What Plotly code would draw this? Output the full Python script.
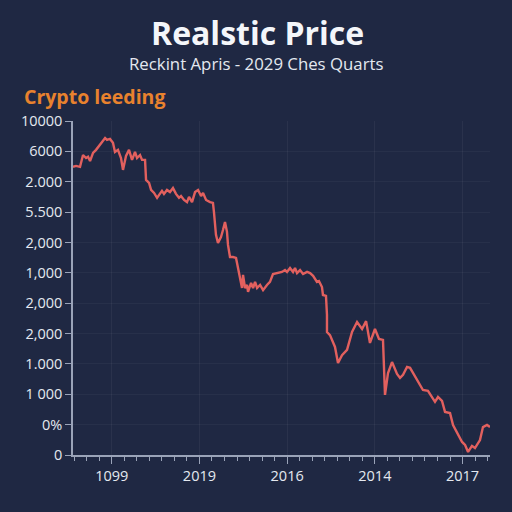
import plotly.graph_objects as go

# period index (minor-tick units) and price level (in tick-slot units)
period = [-3.09,-2.85,-2.53,-2.29,-2.05,-1.89,-1.73,-1.49,-1.25,-1.01,-0.77,-0.53,-0.38,-0.14,0.10,0.26,0.50,0.74,0.90,1.14,1.38,1.62,1.86,2.02,2.26,2.42,2.66,2.74,2.98,3.14,3.38,3.62,3.77,4.01,4.17,4.41,4.65,4.89,5.13,5.37,5.53,5.77,6.01,6.17,6.41,6.65,6.89,7.13,7.29,7.53,7.85,8.08,8.16,8.32,8.48,8.72,8.88,9.04,9.20,9.28,9.44,9.68,9.92,10.08,10.40,10.48,10.64,10.80,10.88,11.12,11.28,11.44,11.60,11.84,12.08,12.39,12.63,12.87,13.19,13.59,13.83,13.99,14.23,14.47,14.63,14.79,15.03,15.27,15.59,15.83,16.07,16.38,16.54,16.78,16.86,17.10,17.18,17.18,17.42,17.82,18.06,18.38,18.78,19.18,19.58,19.98,20.30,20.61,21.01,21.33,21.65,21.81,22.05,22.37,22.77,23.01,23.25,23.57,23.81,24.21,24.61,24.84,25.24,25.56,25.80,26.04,26.36,26.60,27.00,27.24,27.56,27.96,28.20,28.44,28.75,28.99,29.39,29.63,29.95,30.19]
price = [9.49,9.52,9.49,9.88,9.78,9.82,9.68,9.95,10.05,10.18,10.28,10.44,10.38,10.41,10.28,9.98,10.05,9.78,9.39,9.85,10.05,9.72,9.98,9.78,9.88,9.72,9.72,9.06,8.96,8.73,8.63,8.47,8.56,8.70,8.60,8.73,8.66,8.79,8.60,8.47,8.53,8.40,8.33,8.50,8.33,8.66,8.73,8.53,8.63,8.40,8.33,8.30,8.00,7.25,6.98,7.18,7.41,7.67,7.35,6.92,6.52,6.52,6.49,6.16,5.50,5.93,5.50,5.60,5.37,5.67,5.50,5.70,5.50,5.60,5.43,5.60,5.70,5.96,5.99,6.03,6.09,6.03,6.16,6.03,6.16,5.99,6.09,5.96,6.03,5.99,5.90,5.70,5.73,5.53,5.27,5.24,4.61,4.05,3.95,3.56,3.03,3.29,3.46,4.05,4.38,4.15,4.41,3.69,4.15,3.82,3.79,1.98,2.70,3.06,2.67,2.54,2.64,2.90,2.87,2.57,2.31,2.14,2.11,1.88,1.75,1.91,1.78,1.42,1.38,0.99,0.72,0.43,0.33,0.10,0.30,0.23,0.49,0.92,0.99,0.92]

y_tick_vals = [0,1,2,3,4,5,6,7,8,9,10,11]
y_tick_text = ["0","0%","1 000","1.000","2,000","2,000","1,000","2,000","5.500","2.000","6000","10000"]
x_tick_vals = [0,7,14,21,28]
x_tick_text = ["1099","2019","2016","2014","2017"]

BG = "#1f2843"
AX = "#9aa3b8"
TXT = "#e4e8f0"

fig = go.Figure()
fig.add_trace(go.Scatter(x=period, y=price, mode="lines",
                         line=dict(color="#e2605e", width=2.4), hoverinfo="skip"))

fig.update_layout(
    width=512, height=512,
    paper_bgcolor=BG, plot_bgcolor=BG,
    margin=dict(l=73, r=22, t=121, b=57),
    showlegend=False,
    font=dict(family="Open Sans, sans-serif", color=TXT, size=14),
)
fig.update_xaxes(range=[-3.09, 30.19], tickvals=x_tick_vals, ticktext=x_tick_text,
                 ticks="outside", ticklen=7, tickcolor=AX, tickwidth=1.3,
                 showline=True, linecolor=AX, linewidth=1.5,
                 showgrid=True, gridcolor="rgba(255,255,255,0.05)", zeroline=False,
                 minor=dict(dtick=1, tick0=0, ticks="outside", ticklen=4, tickcolor=AX, showgrid=False),
                 tickfont=dict(size=14.5, color=TXT))
fig.update_yaxes(range=[0, 11], tickvals=y_tick_vals, ticktext=y_tick_text,
                 ticks="outside", ticklen=6, tickcolor=AX, tickwidth=1.3,
                 showline=True, linecolor=AX, linewidth=1.5,
                 showgrid=True, gridcolor="rgba(255,255,255,0.04)", zeroline=False,
                 tickfont=dict(size=14.5, color=TXT))

fig.add_annotation(text="<b>Realstic Price</b>", xref="paper", yref="paper",
                   x=0.5, y=1, xanchor="center", yanchor="middle",
                   yshift=(121 - 32), xshift=(257 - (73 + 417/2)),
                   showarrow=False, font=dict(size=32, color="#f4f6fa", family="Open Sans, sans-serif"))
fig.add_annotation(text="Reckint Apris - 2029 Ches Quarts", xref="paper", yref="paper",
                   x=0.5, y=1, xanchor="center", yanchor="middle",
                   yshift=(121 - 63), xshift=(256 - (73 + 417/2)),
                   showarrow=False, font=dict(size=16.8, color="#e4e8f0", family="Open Sans, sans-serif"))
fig.add_annotation(text="<b>Crypto leeding</b>", xref="paper", yref="paper",
                   x=0, y=1, xanchor="left", yanchor="middle",
                   yshift=(121 - 96), xshift=(22 - 73),
                   showarrow=False, font=dict(size=19.5, color="#e8822e", family="Open Sans, sans-serif"))

fig.write_html("out.html", config={"displayModeBar": False},
               post_script="document.body.style.margin='0';document.body.style.overflow='hidden';document.body.style.background='#1f2843';")
